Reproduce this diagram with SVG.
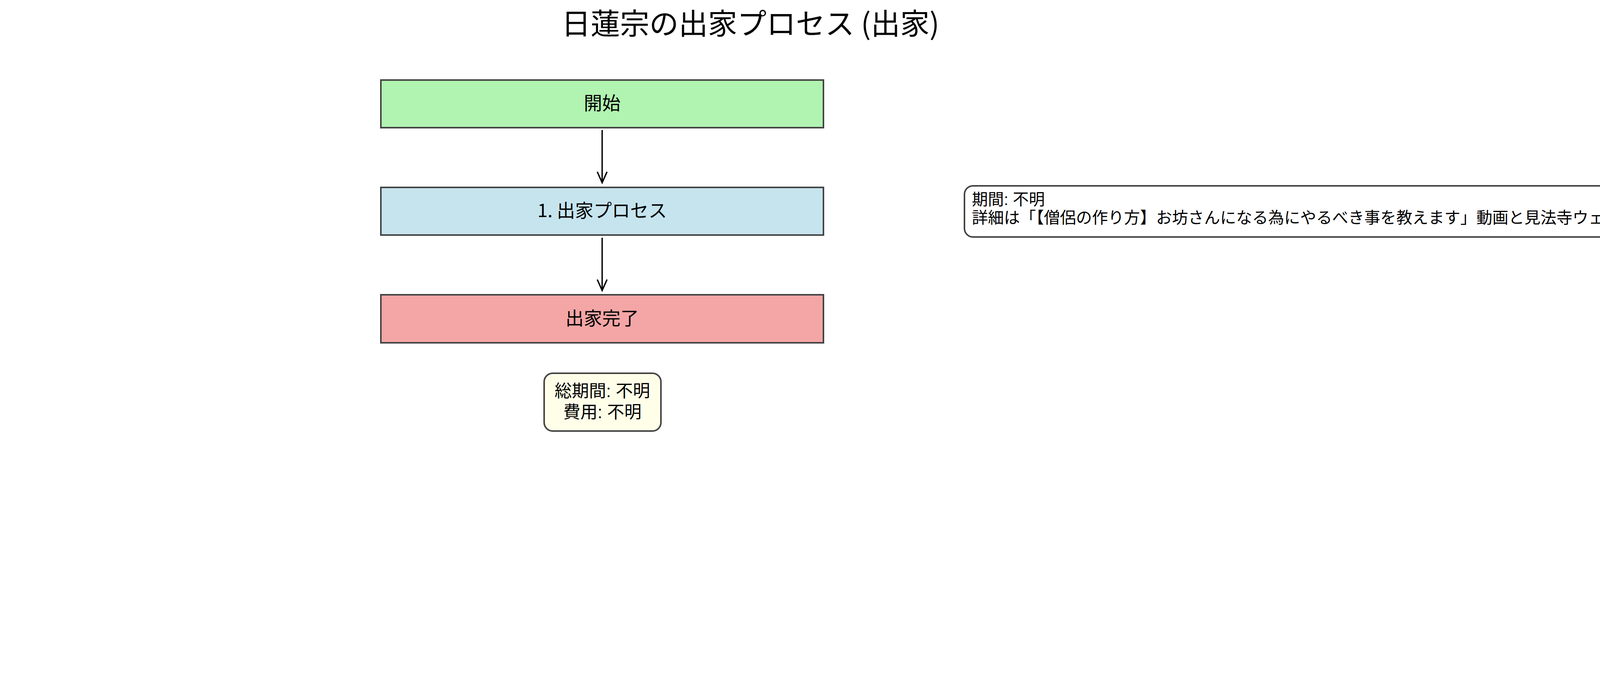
<svg xmlns="http://www.w3.org/2000/svg" width="4473" height="1734" viewBox="0 0 4473 1734">
<style>
text { font-family: "Noto Sans CJK JP", "Liberation Sans", sans-serif; fill: #000; }
.ml { font-family: "Liberation Sans", "Noto Sans CJK JP", sans-serif; }
.box { stroke: #444; stroke-width: 4; }
.lbl { font-size: 47px; text-anchor: middle; }
.conn { stroke: #000; stroke-width: 3.5; fill: none; }
.head { stroke: #000; stroke-width: 3.5; fill: none; stroke-linejoin: miter; }
</style>
<rect width="4473" height="1734" fill="#fff"/>
<text x="1921" y="88" font-size="75" text-anchor="middle">日蓮宗の出家プロセス (出家)</text>
<g id="node-start">
<rect class="box" x="975" y="205" width="1133" height="122" fill="#b1f3b1"/>
<text class="lbl" x="1541.5" y="281">開始</text>
</g>
<g id="node-process">
<rect class="box" x="975" y="480" width="1133" height="122" fill="#c6e4ee"/>
<text class="lbl" x="1541.5" y="556">1. 出家プロセス</text>
</g>
<g id="node-end">
<rect class="box" x="975" y="755" width="1133" height="123" fill="#f4a6a6"/>
<text class="lbl" x="1541.5" y="832">出家完了</text>
</g>
<g id="summary">
<rect class="box" x="1393" y="956" width="299" height="148" rx="22" fill="#ffffe9"/>
<text class="ml" font-size="44" text-anchor="middle"><tspan x="1542" y="1017">総期間: 不明</tspan><tspan x="1542" y="1071">費用: 不明</tspan></text>
</g>
<g id="note">
<rect class="box" x="2469" y="476" width="1995" height="131" rx="22" fill="#fff"/>
<text class="ml" font-size="41"><tspan x="2488" y="525">期間: 不明</tspan><tspan x="2488" y="572">詳細は「【僧侶の作り方】お坊さんになる為にやるべき事を教えます」動画と見法寺ウェブサイトを参照</tspan></text>
</g>
<g id="connectors">
<line class="conn" x1="1541.5" y1="333" x2="1541.5" y2="466"/>
<polyline class="head" points="1529,440 1541.5,468 1554,440"/>
<line class="conn" x1="1541.5" y1="609" x2="1541.5" y2="742"/>
<polyline class="head" points="1529,716 1541.5,744 1554,716"/>
</g>
</svg>
